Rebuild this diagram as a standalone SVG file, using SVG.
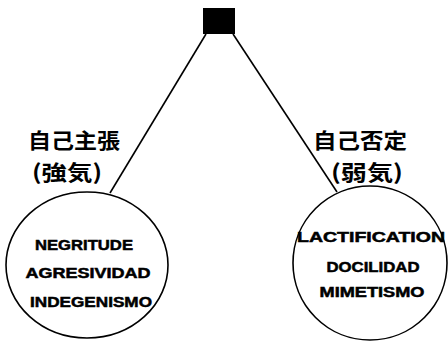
<svg xmlns="http://www.w3.org/2000/svg" width="448" height="347" viewBox="0 0 448 347">
<style>
.ln{stroke:#000;stroke-width:1.6;fill:none}
.t{font-family:"Liberation Sans",Arial,sans-serif;font-weight:bold;font-size:14.5px;fill:#000;stroke:#000;stroke-width:0.5;text-anchor:middle}
.j{font-family:"Noto Sans CJK JP","Noto Sans CJK SC",sans-serif;font-weight:bold;font-size:21px;fill:#000}
</style>
<rect width="448" height="347" fill="#fff"/>
<g id="connectors">
<line class="ln" x1="206" y1="34" x2="110" y2="193"/>
<line class="ln" x1="233" y1="34" x2="337" y2="192"/>
</g>
<g id="root">
<rect x="203" y="8" width="32" height="26" fill="#000"/>
</g>
<g id="left">
<ellipse class="ln" cx="87" cy="265" rx="81" ry="73"/>
<text class="t" x="84" y="250" textLength="98" lengthAdjust="spacingAndGlyphs">NEGRITUDE</text>
<text class="t" x="88" y="278" textLength="125" lengthAdjust="spacingAndGlyphs">AGRESIVIDAD</text>
<text class="t" x="91" y="307" textLength="122" lengthAdjust="spacingAndGlyphs">INDEGENISMO</text>
<text class="j" x="28" y="148" textLength="92" lengthAdjust="spacingAndGlyphs">自己主張</text>
<text class="j" x="32" y="180" textLength="70" lengthAdjust="spacingAndGlyphs">(強気)</text>
</g>
<g id="right">
<ellipse class="ln" cx="370" cy="263" rx="77" ry="77"/>
<text class="t" x="371" y="242" textLength="148" lengthAdjust="spacingAndGlyphs">LACTIFICATION</text>
<text class="t" x="373" y="272" textLength="93" lengthAdjust="spacingAndGlyphs">DOCILIDAD</text>
<text class="t" x="372" y="297" textLength="105" lengthAdjust="spacingAndGlyphs">MIMETISMO</text>
<text class="j" x="313" y="148" textLength="94" lengthAdjust="spacingAndGlyphs">自己否定</text>
<text class="j" x="331" y="180" textLength="72" lengthAdjust="spacingAndGlyphs">(弱気)</text>
</g>
</svg>
